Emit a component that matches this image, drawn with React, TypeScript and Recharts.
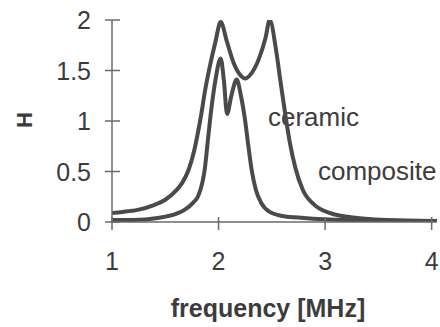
import { Line, LineChart, XAxis, YAxis } from "recharts";

// frequency [MHz] / H
const ceramicFreq = [
  1.0, 1.2, 1.43, 1.6, 1.68, 1.76, 1.81, 1.85, 1.87, 1.9, 1.93, 1.97, 2.02,
  2.05, 2.08, 2.12, 2.17, 2.21, 2.25, 2.28, 2.31, 2.35, 2.4, 2.48, 2.6, 2.8,
  3.2, 3.6, 4.05,
];
const ceramicH = [
  0.02, 0.02, 0.04, 0.08, 0.12, 0.19, 0.26, 0.4, 0.52, 0.81, 1.1, 1.4, 1.62,
  1.4, 1.07, 1.25, 1.41, 1.25, 1.0, 0.75, 0.52, 0.32, 0.19, 0.1, 0.06, 0.04,
  0.02, 0.015, 0.01,
];

const compositeFreq = [
  1.0, 1.1, 1.24, 1.4, 1.5, 1.6, 1.66, 1.72, 1.77, 1.8, 1.84, 1.87, 1.92, 1.97,
  2.02, 2.08, 2.14, 2.2, 2.25, 2.3, 2.38, 2.44, 2.48, 2.54, 2.58, 2.62, 2.67,
  2.72, 2.79, 2.9, 3.04, 3.3, 3.7, 4.05,
];
const compositeH = [
  0.09, 0.1, 0.12, 0.17, 0.22, 0.31, 0.39, 0.52, 0.7, 0.85, 1.08, 1.28, 1.55,
  1.78, 1.98, 1.78, 1.58, 1.46, 1.42, 1.46, 1.62, 1.82, 2.0, 1.7, 1.4, 1.11,
  0.78, 0.54, 0.32, 0.17, 0.09, 0.04, 0.015, 0.01,
];

const xTicks = [1, 2, 3, 4];
const yTicks = [0, 0.5, 1, 1.5, 2];
const xTitle = "frequency [MHz]";
const yTitle = "H";
const seriesNames = ["ceramic", "composite"];

const FONT = "'Liberation Sans', Arial, sans-serif";
const INK = "#4a4a4a";
const TEXT = "#3c3c3c";
const AXIS = "#6a6a6a";

const ceramic = ceramicFreq.map((f, i) => ({ f, h: ceramicH[i] }));
const composite = compositeFreq.map((f, i) => ({ f, h: compositeH[i] }));

function XTick({ x, y, payload }: any) {
  return (
    <g>
      <line x1={x} x2={x} y1={y - 5} y2={y + 8} stroke={AXIS} strokeWidth={1.5} />
      <text
        x={x}
        y={y + 48}
        textAnchor="middle"
        fontSize={25}
        fontFamily={FONT}
        fill={TEXT}
      >
        {payload.value}
      </text>
    </g>
  );
}

function YTick({ x, y, payload }: any) {
  return (
    <g>
      <line x1={x - 7} x2={x + 8} y1={y} y2={y} stroke={AXIS} strokeWidth={1.5} />
      <text
        x={x - 21}
        y={y}
        dy="0.36em"
        textAnchor="end"
        fontSize={25}
        fontFamily={FONT}
        fill={TEXT}
      >
        {payload.value}
      </text>
    </g>
  );
}

export default function App() {
  return (
    <div style={{ position: "absolute", left: 0, top: 0, background: "#fff" }}>
      <LineChart
        width={440}
        height={327}
        margin={{ top: 20, right: 3, bottom: 0, left: 0 }}
      >
        <XAxis
          dataKey="f"
          type="number"
          domain={[1, 4.05]}
          ticks={xTicks}
          interval={0}
          height={105}
          tickSize={0}
          tickMargin={0}
          tickLine={false}
          axisLine={{ stroke: AXIS, strokeWidth: 1.5 }}
          tick={<XTick />}
          allowDataOverflow
        />
        <YAxis
          type="number"
          domain={[0, 2]}
          ticks={yTicks}
          interval={0}
          width={112}
          tickSize={0}
          tickMargin={0}
          tickLine={false}
          axisLine={{ stroke: AXIS, strokeWidth: 1.5 }}
          tick={<YTick />}
          allowDataOverflow
        />
        <Line
          data={composite}
          dataKey="h"
          type="monotone"
          stroke={INK}
          strokeWidth={4}
          strokeLinejoin="round"
          dot={false}
          isAnimationActive={false}
        />
        <Line
          data={ceramic}
          dataKey="h"
          type="monotone"
          stroke={INK}
          strokeWidth={4}
          strokeLinejoin="round"
          dot={false}
          isAnimationActive={false}
        />
        <text x={268} y={126} fontSize={26} fontFamily={FONT} fill={TEXT}>
          {seriesNames[0]}
        </text>
        <text x={318} y={180} fontSize={26} fontFamily={FONT} fill={TEXT}>
          {seriesNames[1]}
        </text>
        <text
          x={268}
          y={317}
          textAnchor="middle"
          fontSize={25}
          fontWeight="bold"
          fontFamily={FONT}
          fill={TEXT}
        >
          {xTitle}
        </text>
        <text
          x={24}
          y={120}
          dy="0.36em"
          textAnchor="middle"
          transform="rotate(-90 24 120)"
          fontSize={22}
          fontWeight="bold"
          fontFamily={FONT}
          fill={TEXT}
        >
          {yTitle}
        </text>
      </LineChart>
    </div>
  );
}
